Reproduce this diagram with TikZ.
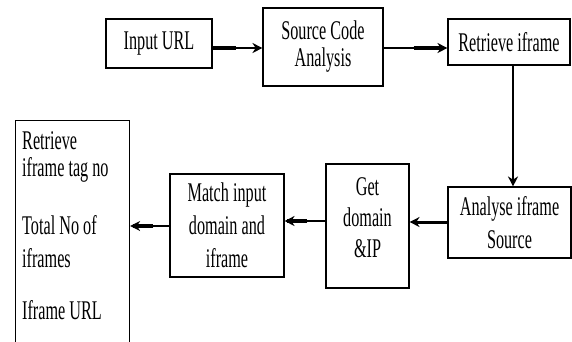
\documentclass[tikz,border=0pt]{standalone}
\usepackage{fontspec}
\setmainfont{Liberation Serif}[FakeStretch=0.6]
\usetikzlibrary{arrows.meta}
\begin{document}
\begin{tikzpicture}[x=1pt,y=-1pt,
  box/.style={draw, line width=1.1pt, inner sep=0pt, align=center},
  ftop/.style={font=\fontsize{27}{27}\selectfont},
  flow/.style={font=\fontsize{27}{33}\selectfont},
  fget/.style={font=\fontsize{27}{31}\selectfont},
  rtxt/.style={anchor=west, inner sep=0pt, font=\fontsize{27}{27}\selectfont},
  arr/.style={line width=2pt, -{Stealth[length=10pt,width=10pt]}},
  thk/.style={line width=4pt}]
\useasboundingbox (0,0) rectangle (572,341);

\node[box, ftop, minimum width=106pt, minimum height=49pt] (in) at (159,43.5) {Input URL};
\node[box, ftop, minimum width=120pt, minimum height=78pt] (src) at (323,47) {Source Code\\Analysis};
\node[box, ftop, minimum width=122pt, minimum height=46pt] (ret) at (509,42) {Retrieve iframe};
\node[box, flow, minimum width=123pt, minimum height=71pt] (ana) at (509.5,222.5) {Analyse iframe\\Source};
\node[box, fget, minimum width=83pt, minimum height=124pt] (get) at (367.5,226) {Get\\domain\\\&IP\\[-14pt]\mbox{}};
\node[box, flow, minimum width=114pt, minimum height=103pt] (mat) at (227,225.5) {Match input\\domain and\\iframe};
\node[draw, line width=1.1pt, inner sep=0pt, minimum width=114pt, minimum height=240pt, anchor=north west] (res) at (15,120) {};

\node[rtxt] (r1) at (22,141) {Retrieve};
\node[rtxt] (r2) at (22,170) {iframe tag no};
\node[rtxt] (r3) at (22,225) {Total No of};
\node[rtxt] (r4) at (22,258) {iframes};
\node[rtxt] (r5) at (22,310) {Iframe URL};

\draw[arr] (in.east |- 0,48) -- (src.west |- 0,48);
\draw[thk] (in.east |- 0,48) -- ++(23,0);
\draw[arr] (src.east |- 0,48) -- (ret.west |- 0,48);
\draw[thk] (src.east |- 0,48) ++(30,0) -- ++(30,0);
\draw[arr, line width=1.6pt] (ret.south -| 513,0) -- (ana.north -| 513,0);
\draw[arr, line width=3pt] (ana.west |- 0,222) -- (get.east |- 0,222);
\draw[arr] (get.west |- 0,221) -- (mat.east |- 0,221);
\draw[thk] (get.west |- 0,221) ++(-18,0) -- ++(-20,0);
\draw[arr] (mat.west |- 0,226) -- (res.east |- 0,226);
\draw[thk] (mat.west |- 0,226) ++(-16,0) -- ++(-20,0);
\end{tikzpicture}
\end{document}
